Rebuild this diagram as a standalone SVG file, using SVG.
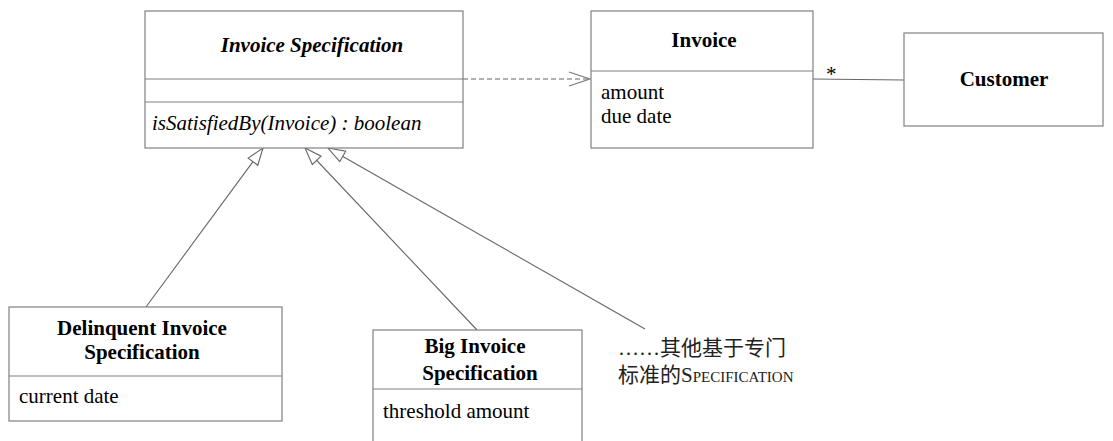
<svg xmlns="http://www.w3.org/2000/svg" width="1113" height="441" viewBox="0 0 1113 441">
<style>
.box{fill:#fff;stroke:#808080;stroke-width:1.2}
.div{stroke:#808080;stroke-width:1.2}
text{font-family:'Liberation Serif','DejaVu Serif',serif;font-size:21px;fill:#000}
.b{font-weight:bold}
.i{font-style:italic}
.m{text-anchor:middle}
.c{stroke:#666;stroke-width:1.1;fill:none}
.cjk{font-family:'Liberation Serif','Noto Sans CJK SC',serif;font-size:21px;fill:#222}
</style>
<defs>
<marker id="gen" markerUnits="userSpaceOnUse" markerWidth="20" markerHeight="15" refX="18" refY="7" orient="auto">
<path d="M1,1 L18,7 L1,13 Z" fill="#fff" stroke="#666" stroke-width="1.1"/>
</marker>
<marker id="dep" markerUnits="userSpaceOnUse" markerWidth="24" markerHeight="16" refX="22" refY="8" orient="auto">
<path d="M1,1 L22,8 L1,15" fill="none" stroke="#777" stroke-width="1.1"/>
</marker>
</defs>

<g id="connectors">
<line class="c" x1="463" y1="79" x2="590" y2="79" stroke-dasharray="5,3" stroke="#888" marker-end="url(#dep)"/>
<line class="c" x1="813" y1="79" x2="904" y2="80"/>
<text x="826" y="81" font-size="17">*</text>
<line class="c" x1="146" y1="307" x2="263" y2="148" marker-end="url(#gen)"/>
<line class="c" x1="477" y1="330" x2="305" y2="148" marker-end="url(#gen)"/>
<line class="c" x1="645" y1="329" x2="328" y2="148" marker-end="url(#gen)"/>
</g>

<g id="invoice-specification">
<rect class="box" x="145" y="11" width="318" height="137"/>
<line class="div" x1="145" y1="79" x2="463" y2="79"/>
<line class="div" x1="145" y1="102" x2="463" y2="102"/>
<text class="b i m" x="312" y="52">Invoice Specification</text>
<text class="i" x="152" y="130">isSatisfiedBy(Invoice) : boolean</text>
</g>

<g id="invoice">
<rect class="box" x="591" y="11" width="222" height="137"/>
<line class="div" x1="591" y1="71" x2="813" y2="71"/>
<text class="b m" x="704" y="47">Invoice</text>
<text x="601" y="99">amount</text>
<text x="601" y="123">due date</text>
</g>

<g id="customer">
<rect class="box" x="904" y="33" width="199" height="93"/>
<text class="b m" x="1004" y="86">Customer</text>
</g>

<g id="delinquent-invoice-specification">
<rect class="box" x="9" y="307" width="273" height="114"/>
<line class="div" x1="9" y1="376" x2="282" y2="376"/>
<text class="b m" x="142" y="335">Delinquent Invoice</text>
<text class="b m" x="142" y="359">Specification</text>
<text x="19" y="403">current date</text>
</g>

<g id="big-invoice-specification">
<rect class="box" x="373" y="330" width="209" height="130"/>
<line class="div" x1="373" y1="389" x2="582" y2="389" stroke="#444"/>
<text class="b m" x="475" y="353">Big Invoice</text>
<text class="b m" x="480" y="380">Specification</text>
<text x="383" y="418">threshold amount</text>
</g>

<g id="other-specifications">
<text class="cjk" x="618" y="355">……其他基于专门</text>
<text class="cjk" x="618" y="382">标准的S<tspan font-size="15">PECIFICATION</tspan></text>
</g>
</svg>
